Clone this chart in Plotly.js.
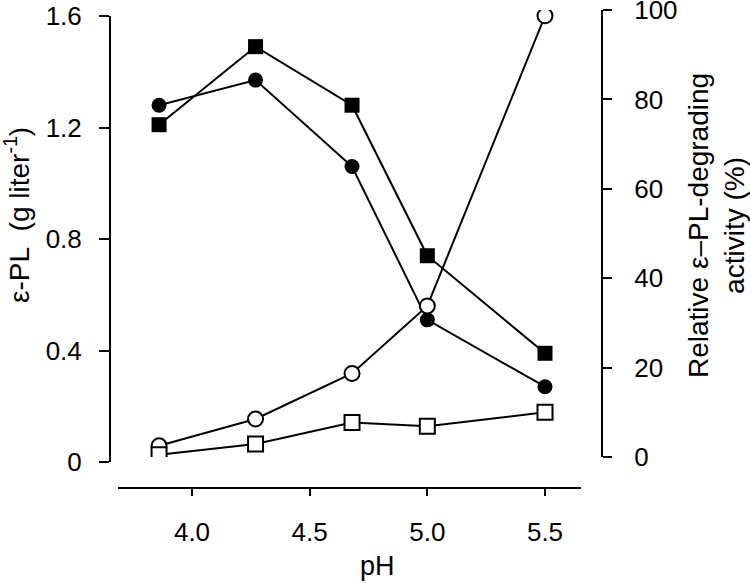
<!DOCTYPE html>
<html>
<head>
<meta charset="utf-8">
<script src="https://cdn.plot.ly/plotly-3.0.1.min.js"></script>
<style>html,body{margin:0;padding:0;background:#fff;}#chart{width:750px;height:583px;}</style>
</head>
<body>
<div id="chart"></div>
<script>
// Data
const pH = [3.86, 4.27, 4.68, 5.0, 5.5];
const filledCircle = [1.28, 1.37, 1.06, 0.51, 0.27];   // g liter-1 (left axis)
const filledSquare = [1.21, 1.49, 1.28, 0.74, 0.39];   // g liter-1 (left axis)
const openCircle = [2.5, 8.5, 18.7, 33.8, 98.7];       // % (right axis)
const openSquare = [0.5, 2.9, 7.7, 6.9, 10.0];         // % (right axis)
const xTicks = [4.0, 4.5, 5.0, 5.5];
const xTickText = ['4.0', '4.5', '5.0', '5.5'];
const yTicks = [0, 0.4, 0.8, 1.2, 1.6];
const yTickText = ['0', '0.4', '0.8', '1.2', '1.6'];
const y2Ticks = [0, 20, 40, 60, 80, 100];
const y2TickText = ['0', '20', '40', '60', '80', '100'];

const FONT = 'Liberation Sans, Arial, Helvetica, sans-serif';
const lineStyle = {color: '#000', width: 2};

const traces = [
  {x: pH, y: filledCircle, xaxis: 'x', yaxis: 'y', mode: 'lines+markers', line: lineStyle,
   marker: {symbol: 'circle', size: 15, color: '#000'}},
  {x: pH, y: filledSquare, xaxis: 'x', yaxis: 'y', mode: 'lines+markers', line: lineStyle,
   marker: {symbol: 'square', size: 15, color: '#000'}},
  {x: pH, y: openCircle, xaxis: 'x', yaxis: 'y2', mode: 'lines+markers', line: lineStyle,
   marker: {symbol: 'circle', size: 15, color: '#fff', line: {color: '#000', width: 2}}},
  {x: pH, y: openSquare, xaxis: 'x', yaxis: 'y2', mode: 'lines+markers', line: lineStyle,
   marker: {symbol: 'square', size: 15, color: '#fff', line: {color: '#000', width: 2}}}
];

const W = 750, H = 583;
const L = 110, R = 602, T = 10, B = 488;
const pw = R - L, ph = B - T;
const px = v => (v - L) / pw;
const py = v => (B - v) / ph;

const layout = {
  width: W, height: H,
  margin: {l: L, r: W - R, t: T, b: H - B, pad: 0},
  paper_bgcolor: '#fff', plot_bgcolor: 'rgba(0,0,0,0)',
  showlegend: false,
  font: {family: FONT, size: 26, color: '#000'},
  xaxis: {
    domain: [px(118), px(581)], range: [3.6855, 5.653],
    anchor: 'free', position: 0,
    showline: true, linecolor: '#000', linewidth: 2,
    ticks: 'outside', ticklen: 7, tickwidth: 2, tickcolor: '#000',
    tickvals: xTicks, ticktext: xTickText, ticklabelstandoff: 14,
    showgrid: false, zeroline: false,
    tickfont: {family: FONT, size: 26, color: '#000'}
  },
  yaxis: {
    domain: [py(462), py(16)], range: [-0.00001, 1.60001],
    anchor: 'free', position: 0,
    showline: true, linecolor: '#000', linewidth: 2,
    ticks: 'outside', ticklen: 10, tickwidth: 2, tickcolor: '#000',
    tickvals: yTicks, ticktext: yTickText, ticklabelstandoff: 12,
    ticklabeloverflow: 'allow',
    showgrid: false, zeroline: false,
    tickfont: {family: FONT, size: 26, color: '#000'}
  },
  yaxis2: {
    domain: [py(457), py(10)], range: [-0.001, 100.001],
    anchor: 'free', position: 1, side: 'right',
    showline: true, linecolor: '#000', linewidth: 2,
    ticks: 'outside', ticklen: 9, tickwidth: 2, tickcolor: '#000',
    tickvals: y2Ticks, ticktext: y2TickText, ticklabelstandoff: 17,
    ticklabeloverflow: 'allow',
    showgrid: false, zeroline: false,
    tickfont: {family: FONT, size: 26, color: '#000'}
  },
  annotations: [
    {text: 'pH', xref: 'paper', yref: 'paper', x: px(377), y: py(566),
     xanchor: 'center', yanchor: 'middle', showarrow: false,
     font: {family: FONT, size: 27, color: '#000'}},
    {text: 'ε-PL\u00a0\u00a0(g liter<sup>-1</sup>)', xref: 'paper', yref: 'paper', x: px(17), y: py(215),
     xanchor: 'center', yanchor: 'middle', textangle: -90, showarrow: false,
     font: {family: FONT, size: 28, color: '#000'}},
    {text: 'Relative ε–PL-degrading<br>activity (%)', xref: 'paper', yref: 'paper', x: px(717), y: py(226),
     xanchor: 'center', yanchor: 'middle', textangle: -90, showarrow: false,
     font: {family: FONT, size: 28, color: '#000'}}
  ]
};

Plotly.newPlot('chart', traces, layout, {displayModeBar: false, staticPlot: true});
</script>
</body>
</html>
